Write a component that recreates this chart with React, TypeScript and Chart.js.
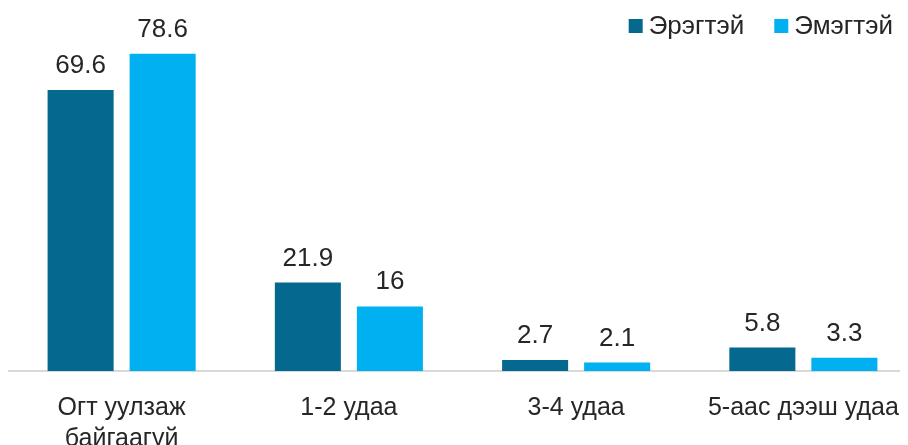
import React, { useEffect, useRef } from "react";
import { Chart, registerables } from "chart.js";

Chart.register(...registerables);

const categories: (string | string[])[] = [["Огт уулзаж", "байгаагүй"], "1-2 удаа", "3-4 удаа", "5-аас дээш удаа"];
const seriesNames = ["Эрэгтэй", "Эмэгтэй"];
const maleValues = [69.6, 21.9, 2.7, 5.8];
const femaleValues = [78.6, 16, 2.1, 3.3];
const colors = ["#05688F", "#00B0F0"];

const FONT = "'Liberation Sans', Arial, sans-serif";
const TEXT = "#262626";
const FS = 26;

const valueLabels = {
  id: "valueLabels",
  afterDatasetsDraw(chart: any) {
    const ctx = chart.ctx;
    ctx.save();
    ctx.font = `${FS}px ${FONT}`;
    ctx.fillStyle = TEXT;
    ctx.textAlign = "center";
    ctx.textBaseline = "alphabetic";
    chart.data.datasets.forEach((ds: any, i: number) => {
      const meta = chart.getDatasetMeta(i);
      meta.data.forEach((bar: any, j: number) => {
        ctx.fillText(String(ds.data[j]), bar.x, bar.y - 17);
      });
    });
    ctx.restore();
  },
};

const customLegend = {
  id: "customLegend",
  afterDraw(chart: any) {
    const ctx = chart.ctx;
    ctx.save();
    ctx.font = `${FS}px ${FONT}`;
    ctx.textBaseline = "middle";
    const box = 14;
    const gapText = 6;
    const gapItems = 30;
    const cy = 18;
    const items = chart.data.datasets.map((d: any) => ({ label: d.label, color: d.backgroundColor }));
    let x = chart.width - 24;
    for (let k = items.length - 1; k >= 0; k--) {
      const w = ctx.measureText(items[k].label).width;
      const tx = x - w;
      ctx.fillStyle = TEXT;
      ctx.textAlign = "left";
      ctx.fillText(items[k].label, tx, cy + 1);
      ctx.fillStyle = items[k].color;
      ctx.fillRect(tx - gapText - box, cy - box / 2, box, box);
      x = tx - gapText - box - gapItems;
    }
    ctx.restore();
  },
};

export default function App() {
  const ref = useRef<HTMLCanvasElement>(null);
  useEffect(() => {
    if (!ref.current) return;
    const chart = new Chart(ref.current, {
      type: "bar",
      data: {
        labels: categories,
        datasets: [
          { label: seriesNames[0], data: maleValues, backgroundColor: colors[0] },
          { label: seriesNames[1], data: femaleValues, backgroundColor: colors[1] },
        ],
      },
      options: {
        animation: false,
        responsive: true,
        maintainAspectRatio: false,
        layout: { padding: { top: 40, left: 0, right: 0, bottom: 0 } },
        datasets: {
          bar: { categoryPercentage: 0.722, barPercentage: 0.805 },
        },
        plugins: {
          legend: { display: false },
          tooltip: { enabled: false },
        },
        scales: {
          x: {
            grid: { display: false },
            border: { display: true, color: "#D9D9D9", width: 2 },
            ticks: {
              color: TEXT,
              font: { family: FONT, size: 25, lineHeight: 1.24 },
              padding: 14,
              maxRotation: 0,
              autoSkip: false,
            },
          },
          y: {
            display: false,
            min: 0,
            max: 80,
          },
        },
      },
      plugins: [valueLabels, customLegend],
    });
    return () => chart.destroy();
  }, []);
  return (
    <div style={{ width: 900, height: 437, overflow: "hidden" }}>
      <div style={{ width: 909, height: 461, position: "relative" }}>
        <canvas ref={ref} />
      </div>
    </div>
  );
}
